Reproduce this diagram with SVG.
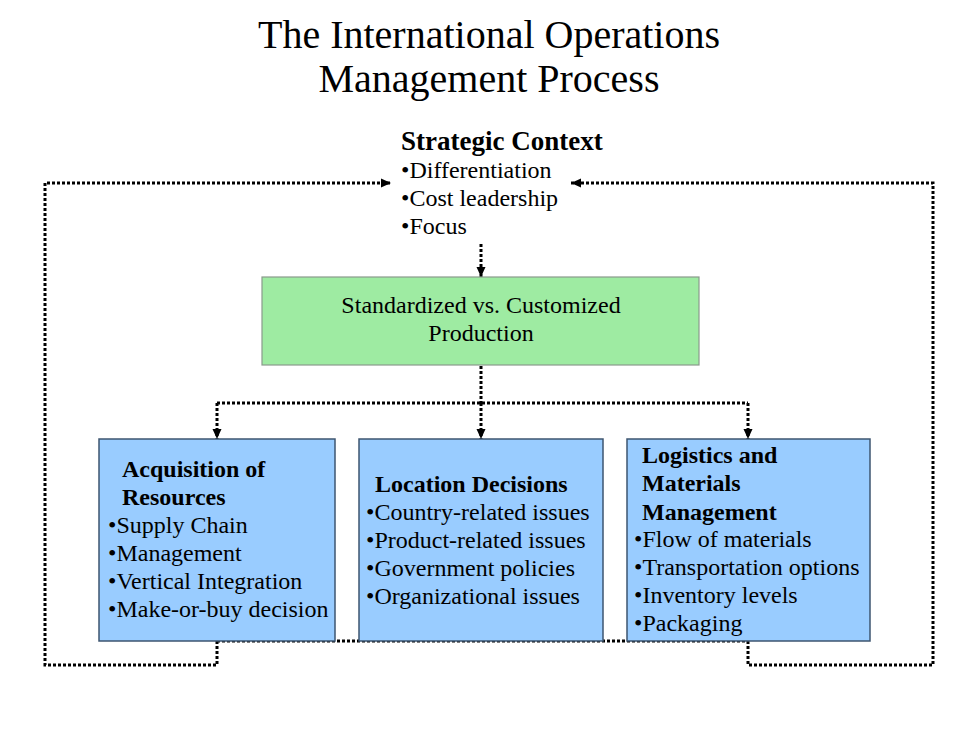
<svg xmlns="http://www.w3.org/2000/svg" width="976" height="731" viewBox="0 0 976 731">
<style>
text { font-family: "Liberation Serif", "Times New Roman", serif; fill: #000; }
.title { font-size: 40px; text-anchor: middle; }
.head { font-size: 27px; font-weight: bold; }
.bhead { font-size: 24px; font-weight: bold; }
.item { font-size: 24px; }
.ctr { text-anchor: middle; }
.blue { fill: #99CCFF; stroke: #3E5670; stroke-width: 1.5; }
.green { fill: #9EEBA2; stroke: #8A9A8C; stroke-width: 1.2; }
.dot { fill: none; stroke: #000; stroke-width: 3; stroke-dasharray: 3 2; }
</style>
<defs>
<marker id="ah" markerUnits="userSpaceOnUse" markerWidth="10" markerHeight="10" viewBox="0 0 10 10" refX="10" refY="5" orient="auto">
<path d="M0,0.5 L10,5 L0,9.5 Z" fill="#000"/>
</marker>
</defs>
<rect width="976" height="731" fill="#fff"/>
<g id="title">
<text class="title" x="489" y="48">The International Operations</text>
<text class="title" x="489" y="92">Management Process</text>
</g>
<g id="connectors">
<path class="dot" d="M481,244 V277" marker-end="url(#ah)"/>
<path class="dot" d="M481,366 V403"/>
<path class="dot" d="M217,403 H748"/>
<path class="dot" d="M217,403 V439" marker-end="url(#ah)"/>
<path class="dot" d="M481,403 V439" marker-end="url(#ah)"/>
<path class="dot" d="M748,403 V439" marker-end="url(#ah)"/>
<path class="dot" d="M217,641 H748"/>
<path class="dot" d="M217,641 V665 H45 V183 H391" marker-end="url(#ah)"/>
<path class="dot" d="M748,641 V665 H933 V183 H571" marker-end="url(#ah)"/>
</g>
<g id="strategic">
<text class="head" x="401" y="150">Strategic Context</text>
<text class="item" x="401" y="178">•Differentiation</text>
<text class="item" x="401" y="206">•Cost leadership</text>
<text class="item" x="401" y="234">•Focus</text>
</g>
<g id="production">
<rect class="green" x="262" y="277" width="437" height="88"/>
<text class="item ctr" x="481" y="313">Standardized vs. Customized</text>
<text class="item ctr" x="481" y="341">Production</text>
</g>
<g id="acquisition">
<rect class="blue" x="99" y="439" width="236" height="202"/>
<text class="bhead" x="122" y="477">Acquisition of</text>
<text class="bhead" x="122" y="505">Resources</text>
<text class="item" x="108" y="533">•Supply Chain</text>
<text class="item" x="108" y="561">•Management</text>
<text class="item" x="108" y="589">•Vertical Integration</text>
<text class="item" x="108" y="617">•Make-or-buy decision</text>
</g>
<g id="location">
<rect class="blue" x="359" y="439" width="244" height="202"/>
<text class="bhead" x="375" y="492">Location Decisions</text>
<text class="item" x="366" y="520">•Country-related issues</text>
<text class="item" x="366" y="548">•Product-related issues</text>
<text class="item" x="366" y="576">•Government policies</text>
<text class="item" x="366" y="604">•Organizational issues</text>
</g>
<g id="logistics">
<rect class="blue" x="627" y="439" width="243" height="202"/>
<text class="bhead" x="642" y="463">Logistics and</text>
<text class="bhead" x="642" y="491">Materials</text>
<text class="bhead" x="642" y="520">Management</text>
<text class="item" x="634" y="547">•Flow of materials</text>
<text class="item" x="634" y="575">•Transportation options</text>
<text class="item" x="634" y="603">•Inventory levels</text>
<text class="item" x="634" y="631">•Packaging</text>
</g>
</svg>
